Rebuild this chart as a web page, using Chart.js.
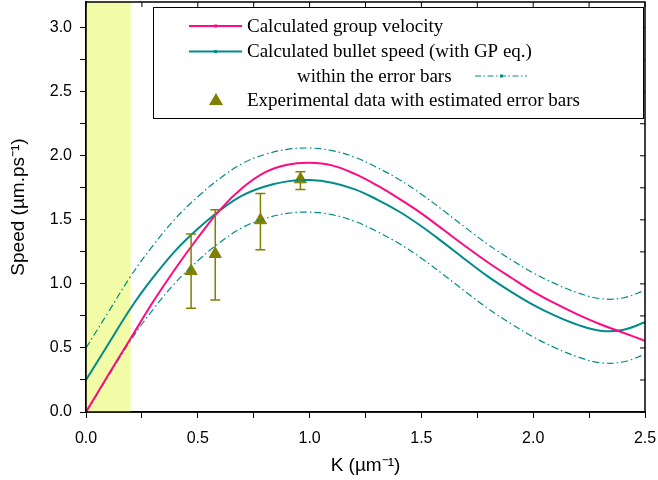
<!DOCTYPE html>
<html>
<head>
<meta charset="utf-8">
<script src="https://cdn.jsdelivr.net/npm/chart.js@4.4.0/dist/chart.umd.min.js"></script>
<style>
  html, body { margin: 0; padding: 0; background: #ffffff; }
  #chart { display: block; }
</style>
</head>
<body>
<canvas id="chart" width="658" height="480"></canvas>
<script>
/* DATA */
var kValues = [0, 0.1, 0.2, 0.3, 0.4, 0.5, 0.6, 0.7, 0.8, 0.9, 1.0, 1.1, 1.2, 1.3, 1.4, 1.5, 1.6, 1.7, 1.8, 1.9, 2.0, 2.1, 2.2, 2.3, 2.4, 2.5];
var groupVelocity = [0, 0.29, 0.575, 0.86, 1.12, 1.36, 1.58, 1.75, 1.87, 1.93, 1.945, 1.925, 1.86, 1.77, 1.665, 1.55, 1.42, 1.29, 1.165, 1.05, 0.94, 0.845, 0.76, 0.685, 0.62, 0.556];
var bulletSpeed = [0.25, 0.53, 0.81, 1.05, 1.26, 1.43, 1.575, 1.69, 1.76, 1.80, 1.81, 1.79, 1.74, 1.66, 1.565, 1.45, 1.32, 1.185, 1.055, 0.94, 0.836, 0.75, 0.68, 0.635, 0.64, 0.70];
var bulletUpper = [0.5, 0.78, 1.06, 1.30, 1.51, 1.68, 1.825, 1.94, 2.01, 2.05, 2.06, 2.04, 1.99, 1.91, 1.815, 1.70, 1.57, 1.435, 1.305, 1.19, 1.086, 1.0, 0.93, 0.885, 0.89, 0.95];
var bulletLower = [0, 0.28, 0.56, 0.80, 1.01, 1.18, 1.325, 1.44, 1.51, 1.55, 1.56, 1.54, 1.49, 1.41, 1.315, 1.20, 1.07, 0.935, 0.805, 0.69, 0.586, 0.50, 0.43, 0.385, 0.39, 0.45];

var expK = [0.47, 0.578, 0.78, 0.959];
var expSpeed = [1.10, 1.233, 1.497, 1.816];
var expErrHigh = [1.39, 1.578, 1.706, 1.876];
var expErrLow = [0.81, 0.875, 1.267, 1.737];

var shadedBand = [0, 0.2];

var legendLabels = ['Calculated group velocity', 'Calculated bullet speed (with GP eq.)', 'within the error bars', 'Experimental data with estimated error bars'];

var pink = '#ff0a80';
var teal = '#008b8b';
var olive = '#808000';

function toPoints(xs, ys) {
  var pts = [];
  for (var i = 0; i < xs.length; i++) {
    pts.push({ x: xs[i], y: ys[i] });
  }
  return pts;
}

function halfLabel(value) {
  var v = value * 2;
  if (Math.abs(v - Math.round(v)) < 1e-6) {
    return value.toFixed(1);
  }
  return '';
}

// yellow band, error bars, frame with inner ticks, legend
var extrasPlugin = {
  id: 'extras',
  beforeDatasetsDraw: function(chart) {
    var ctx = chart.ctx;
    var a = chart.chartArea;
    var xs = chart.scales.x;
    var x0 = xs.getPixelForValue(shadedBand[0]);
    var x1 = xs.getPixelForValue(shadedBand[1]);
    ctx.save();
    ctx.fillStyle = '#f2fba5';
    ctx.fillRect(x0, a.top, x1 - x0, a.bottom - a.top);
    ctx.restore();
  },
  afterDatasetsDraw: function(chart) {
    var ctx = chart.ctx;
    var xs = chart.scales.x;
    var ys = chart.scales.y;
    ctx.save();
    ctx.strokeStyle = olive;
    ctx.lineWidth = 1.5;
    for (var i = 0; i < expK.length; i++) {
      var px = xs.getPixelForValue(expK[i]);
      var top = ys.getPixelForValue(expErrHigh[i]);
      var bot = ys.getPixelForValue(expErrLow[i]);
      ctx.beginPath();
      ctx.moveTo(px, top);
      ctx.lineTo(px, bot);
      ctx.moveTo(px - 5, top);
      ctx.lineTo(px + 5, top);
      ctx.moveTo(px - 5, bot);
      ctx.lineTo(px + 5, bot);
      ctx.stroke();
    }
    ctx.restore();
  },
  afterDraw: function(chart) {
    var ctx = chart.ctx;
    var a = chart.chartArea;
    var xs = chart.scales.x;
    var ys = chart.scales.y;
    ctx.save();
    ctx.strokeStyle = '#000000';
    ctx.lineWidth = 1.5;
    ctx.strokeRect(a.left, a.top, a.right - a.left, a.bottom - a.top);
    ctx.lineWidth = 1;
    ctx.beginPath();
    xs.ticks.forEach(function(t) {
      var px = xs.getPixelForValue(t.value);
      ctx.moveTo(px, a.top);
      ctx.lineTo(px, a.top + 5);
    });
    ys.ticks.forEach(function(t) {
      var py = ys.getPixelForValue(t.value);
      ctx.moveTo(a.right, py);
      ctx.lineTo(a.right - 5, py);
    });
    ctx.stroke();

    // legend box
    var bx = 153, by = 7, bw = 490, bh = 111;
    ctx.fillStyle = '#ffffff';
    ctx.fillRect(bx, by, bw, bh);
    ctx.strokeStyle = '#000000';
    ctx.lineWidth = 1;
    ctx.strokeRect(bx + 0.5, by + 0.5, bw, bh);

    ctx.font = '19px "Liberation Serif", "Times New Roman", serif';
    ctx.textBaseline = 'middle';
    ctx.textAlign = 'left';
    ctx.fillStyle = '#000000';

    var rows = [26, 51.5, 76, 100];

    // solid lines
    [pink, teal].forEach(function(c, i) {
      ctx.strokeStyle = c;
      ctx.lineWidth = 2;
      ctx.setLineDash([]);
      ctx.beginPath();
      ctx.moveTo(189, rows[i]);
      ctx.lineTo(242, rows[i]);
      ctx.stroke();
      ctx.fillStyle = c;
      ctx.fillRect(214, rows[i] - 1.5, 3, 3);
      ctx.fillStyle = '#000000';
      ctx.fillText(legendLabels[i], 247, rows[i] + 1);
    });

    // dash-dot error curves
    ctx.fillText(legendLabels[2], 297, rows[2] + 1);
    ctx.strokeStyle = teal;
    ctx.lineWidth = 1;
    ctx.setLineDash([6, 2.5, 1.5, 2.5]);
    ctx.beginPath();
    ctx.moveTo(475, rows[2]);
    ctx.lineTo(527, rows[2]);
    ctx.stroke();
    ctx.setLineDash([]);
    ctx.fillStyle = teal;
    ctx.fillRect(500, rows[2] - 1.5, 3, 3);

    // triangle
    ctx.fillStyle = olive;
    ctx.beginPath();
    ctx.moveTo(216, rows[3] - 7);
    ctx.lineTo(223, rows[3] + 5);
    ctx.lineTo(209, rows[3] + 5);
    ctx.closePath();
    ctx.fill();
    ctx.fillStyle = '#000000';
    ctx.fillText(legendLabels[3], 247, rows[3] + 1);
    ctx.restore();
  }
};

var ctx1 = document.getElementById('chart').getContext('2d');
var chart1 = new Chart(ctx1, {
  type: 'line',
  data: {
    datasets: [{
      label: legendLabels[0],
      data: toPoints(kValues, groupVelocity),
      borderColor: pink,
      borderWidth: 2,
      pointRadius: 0,
      tension: 0.4,
      fill: false
    }, {
      label: legendLabels[1],
      data: toPoints(kValues, bulletSpeed),
      borderColor: teal,
      borderWidth: 2,
      pointRadius: 0,
      tension: 0.4,
      fill: false
    }, {
      label: legendLabels[2],
      data: toPoints(kValues, bulletUpper),
      borderColor: teal,
      borderWidth: 1.2,
      borderDash: [7, 3, 1.5, 3],
      pointRadius: 0,
      tension: 0.4,
      fill: false
    }, {
      label: legendLabels[2] + ' (low)',
      data: toPoints(kValues, bulletLower),
      borderColor: teal,
      borderWidth: 1.2,
      borderDash: [7, 3, 1.5, 3],
      pointRadius: 0,
      tension: 0.4,
      fill: false
    }, {
      label: legendLabels[3],
      data: toPoints(expK, expSpeed),
      showLine: false,
      pointStyle: 'triangle',
      pointRadius: 7,
      pointBackgroundColor: olive,
      pointBorderColor: olive,
      pointBorderWidth: 1
    }]
  },
  options: {
    responsive: false,
    animation: false,
    layout: { autoPadding: false, padding: { top: 2, right: 13, left: 0, bottom: 0 } },
    plugins: {
      legend: { display: false },
      tooltip: { enabled: false }
    },
    scales: {
      x: {
        type: 'linear',
        min: 0,
        max: 2.5,
        afterFit: function(scale) {
          scale.height = 68;
          scale.paddingLeft = 0;
          scale.paddingRight = 0;
        },
        ticks: {
          stepSize: 0.25,
          autoSkip: false,
          maxRotation: 0,
          padding: 11,
          color: '#000000',
          font: { family: '"Liberation Sans", Arial, sans-serif', size: 16 },
          callback: halfLabel
        },
        grid: { drawOnChartArea: false, tickLength: 6, color: '#000000' },
        border: { color: '#000000', width: 1.5 },
        title: {
          display: true,
          text: 'K (\u00b5m\u207b\u00b9)',
          color: '#000000',
          font: { family: '"Liberation Sans", Arial, sans-serif', size: 19 },
          padding: { top: 0, bottom: 3 }
        }
      },
      y: {
        type: 'linear',
        min: 0,
        max: 3.2,
        afterFit: function(scale) {
          scale.width = 86;
          scale.paddingTop = 0;
          scale.paddingBottom = 0;
        },
        ticks: {
          stepSize: 0.25,
          includeBounds: false,
          autoSkip: false,
          padding: 8,
          color: '#000000',
          font: { family: '"Liberation Sans", Arial, sans-serif', size: 16 },
          callback: halfLabel
        },
        grid: { drawOnChartArea: false, tickLength: 6, color: '#000000' },
        border: { color: '#000000', width: 1.5 },
        title: {
          display: true,
          text: 'Speed (\u00b5m.ps\u207b\u00b9)',
          color: '#000000',
          font: { family: '"Liberation Sans", Arial, sans-serif', size: 19 },
          padding: { top: 7, bottom: 0 }
        }
      }
    }
  },
  plugins: [extrasPlugin]
});
</script>
</body>
</html>
